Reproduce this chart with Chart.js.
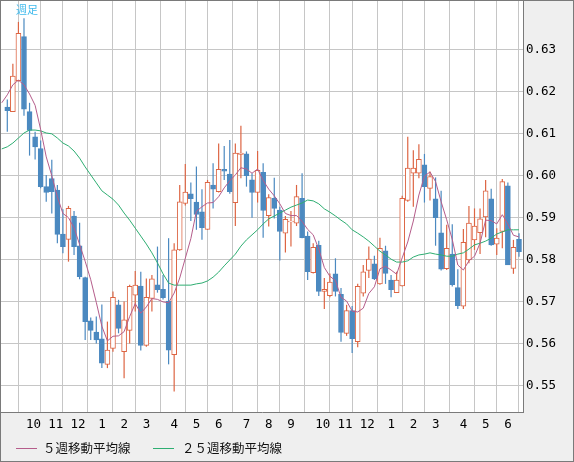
<!DOCTYPE html>
<html><head><meta charset="utf-8">
<script src="https://cdn.jsdelivr.net/npm/chart.js@4.4.1/dist/chart.umd.min.js"></script>
<style>
html,body{margin:0;padding:0;background:#efefef;}
#wrap{position:relative;width:574px;height:462px;box-sizing:border-box;border:1px solid #7a7a7a;background:#efefef;overflow:hidden;}
#c{position:absolute;left:0;top:0;}
.lg{position:absolute;font-family:"Noto Sans CJK JP";font-size:12.5px;line-height:16px;color:#111;white-space:nowrap;}
.ln{position:absolute;height:1px;}
#title{position:absolute;left:15px;top:2px;font-family:"Noto Sans CJK JP";font-size:11px;line-height:13px;color:#3db9ec;}
</style></head>
<body><div id="wrap"><canvas id="c" width="572" height="460" style="width:572px;height:460px"></canvas>
<div id="title">週足</div>
<div class="ln" style="left:15px;top:447px;width:21px;background:#b55d8b"></div>
<div class="lg" style="left:42px;top:439px">５週移動平均線</div>
<div class="ln" style="left:152px;top:447px;width:21px;background:#2eae72"></div>
<div class="lg" style="left:181px;top:439px">２５週移動平均線</div>
</div>
<script>
// weekly OHLC (one entry per week, oldest first)
const opens = [.6164,.6153,.6227,.6332,.6153,.6093,.6065,.5974,.5993,.5966,
.5861,.5848,.5904,.5833,.5757,.5654,.5627,.5611,.5550,.5588,
.5692,.5580,.5631,.5715,.5737,.5595,.5707,.5740,.5729,.5701,
.5573,.5823,.5934,.5957,.5937,.5914,.5872,.5978,.5962,.6015,
.6004,.5936,.6051,.6052,.5990,.5960,.6008,.5905,.5946,.5918,
.5863,.5890,.5887,.5946,.5856,.5769,.5834,.5724,.5714,.5766,
.5717,.5624,.5678,.5604,.5720,.5774,.5790,.5742,.5821,.5751,
.5721,.5737,.5941,.6006,.6006,.6026,.5970,.5945,.5864,.5778,
.5813,.5733,.5689,.5799,.5847,.5864,.5902,.5945,.5837,.5867,
.5976,.5779,.5848];
const highs = [.6182,.6267,.6367,.6376,.6174,.6105,.6084,.6002,.6038,.5978,
.5920,.5928,.5916,.5888,.5759,.5662,.5664,.5693,.5652,.5724,
.5704,.5700,.5740,.5773,.5771,.5755,.5763,.5831,.5763,.5851,
.5839,.5978,.6028,.5984,.6022,.5968,.5990,.6030,.6077,.6071,
.6085,.6077,.6119,.6058,.6006,.6059,.6030,.5956,.5995,.5926,
.5904,.5916,.5978,.6006,.5867,.5839,.5845,.5756,.5767,.5803,
.5732,.5692,.5689,.5742,.5787,.5831,.5809,.5852,.5833,.5763,
.5771,.5952,.6093,.6061,.6075,.6052,.6010,.5996,.5964,.5883,
.5884,.5777,.5873,.5928,.5922,.5922,.5990,.5969,.5875,.5992,
.5984,.5847,.5863];
const lows = [.6105,.6153,.6225,.6143,.6048,.6039,.5970,.5938,.5910,.5839,
.5815,.5795,.5811,.5753,.5608,.5608,.5600,.5541,.5541,.5580,
.5624,.5517,.5600,.5676,.5583,.5592,.5676,.5721,.5705,.5550,
.5485,.5821,.5929,.5892,.5871,.5847,.5871,.5922,.5960,.5990,
.5957,.5880,.5994,.5974,.5900,.5936,.5852,.5879,.5898,.5798,
.5817,.5831,.5880,.5851,.5751,.5767,.5713,.5682,.5710,.5712,
.5604,.5618,.5577,.5591,.5712,.5756,.5751,.5740,.5742,.5710,
.5720,.5736,.5938,.5926,.5994,.5936,.5941,.5833,.5774,.5775,
.5736,.5682,.5682,.5791,.5823,.5813,.5853,.5833,.5811,.5827,
.5787,.5766,.5807];
const closes = [.6155,.6238,.6340,.6159,.6108,.6069,.5974,.5960,.5962,.5860,
.5831,.5922,.5831,.5759,.5652,.5631,.5608,.5553,.5584,.5710,
.5636,.5656,.5736,.5739,.5595,.5710,.5754,.5728,.5709,.5584,
.5823,.5938,.5961,.5945,.5908,.5876,.5984,.5968,.6015,.6011,
.5962,.6054,.6054,.6000,.5960,.6013,.5917,.5948,.5922,.5867,
.5896,.5892,.5950,.5852,.5771,.5829,.5724,.5729,.5746,.5724,
.5626,.5678,.5611,.5736,.5771,.5801,.5754,.5827,.5767,.5728,
.5751,.5946,.6018,.6018,.6039,.5974,.5998,.5900,.5777,.5827,
.5740,.5690,.5841,.5887,.5880,.5897,.5964,.5835,.5851,.5986,
.5787,.5829,.5819];
// moving averages, first value belongs to the week before the first candle
const ma5 = [.6174,.6193,.6217,.6228,.6217,.6195,.6168,.6110,.6045,.6000,
.5950,.5910,.5900,.5876,.5836,.5796,.5752,.5698,.5641,.5606,
.5617,.5618,.5628,.5664,.5695,.5672,.5687,.5707,.5705,.5699,
.5697,.5720,.5756,.5803,.5850,.5915,.5926,.5935,.5936,.5950,
.5971,.5988,.6002,.6019,.6016,.6006,.6016,.5989,.5968,.5952,
.5933,.5910,.5905,.5905,.5891,.5872,.5859,.5825,.5781,.5760,
.5750,.5710,.5701,.5677,.5675,.5684,.5719,.5735,.5778,.5784,
.5775,.5765,.5804,.5842,.5892,.5954,.5999,.6009,.5986,.5938,
.5895,.5848,.5787,.5775,.5797,.5808,.5839,.5894,.5893,.5885,
.5907,.5885,.5858,.5854];
const ma25 = [.6064,.6069,.6078,.6090,.6102,.6109,.6109,.6107,.6102,.6100,
.6090,.6078,.6071,.6059,.6042,.6021,.6002,.5983,.5964,.5954,
.5944,.5930,.5911,.5894,.5875,.5856,.5837,.5816,.5792,.5766,
.5744,.5739,.5739,.5739,.5739,.5742,.5744,.5749,.5758,.5770,
.5785,.5799,.5813,.5832,.5847,.5859,.5871,.5885,.5897,.5904,
.5911,.5918,.5925,.5930,.5935,.5942,.5940,.5933,.5921,.5913,
.5904,.5894,.5885,.5871,.5863,.5854,.5844,.5832,.5820,.5811,
.5801,.5794,.5794,.5797,.5806,.5811,.5813,.5816,.5813,.5811,
.5808,.5808,.5813,.5816,.5825,.5835,.5839,.5844,.5851,.5861,
.5866,.5871,.5871,.5871];
// first week of each month (candle index) and its month label
const monthTickIdx = [4,8,12,17,21,25,30,34,38,43,47,51,56,60,64,69,73,77,82,86,90];
const monthLabels = ['10','11','12','1','2','3','4','5','6','7','8','9','10','11','12','1','2','3','4','5','6'];
const yTicks = [0.55,0.56,0.57,0.58,0.59,0.60,0.61,0.62,0.63];

const RED = '#dd6543', BLUE = '#4b89c0', PINK = '#b55d8b', GREEN = '#2eae72';
const GRID = '#c6c6c6', BORDER = '#7a7a7a';

const up = closes.map((c, i) => c >= opens[i]);
const bodyData = opens.map((o, i) => ({x: i, y: [Math.min(o, closes[i]), Math.max(o, closes[i])]}));
const wickData = lows.map((l, i) => ({x: i, y: [l, highs[i]]}));

const bgPlugin = {
  id: 'bg',
  beforeDraw(chart) {
    const {ctx, chartArea: a} = chart;
    ctx.save();
    ctx.fillStyle = '#efefef';
    ctx.fillRect(0, 0, chart.width, chart.height);
    ctx.fillStyle = '#ffffff';
    ctx.fillRect(a.left, a.top, a.right - a.left, a.bottom - a.top);
    ctx.restore();
  }
};

const tickFont = {family: 'DejaVu Sans Mono', size: 12.5};
const noPad = s => { s.paddingTop = 0; s.paddingBottom = 0; s.paddingLeft = 0; s.paddingRight = 0; };

new Chart(document.getElementById('c'), {
  type: 'bar',
  data: {
    datasets: [
      {type: 'line', label: '５週移動平均線', data: ma5.map((v, i) => ({x: i - 1, y: v})),
       borderColor: PINK, borderWidth: 1, pointRadius: 0, fill: false, tension: 0, order: 0},
      {type: 'line', label: '２５週移動平均線', data: ma25.map((v, i) => ({x: i - 1, y: v})),
       borderColor: GREEN, borderWidth: 1, pointRadius: 0, fill: false, tension: 0, order: 0},
      {type: 'bar', label: 'body', data: bodyData, grouped: false, barThickness: 5,
       backgroundColor: up.map(u => u ? '#ffffff' : BLUE),
       borderColor: up.map(u => u ? RED : BLUE), borderWidth: 1, borderSkipped: false, order: 1},
      {type: 'bar', label: 'wick', data: wickData, grouped: false, barThickness: 1.2,
       backgroundColor: up.map(u => u ? RED : BLUE), borderWidth: 0, inflateAmount: 0, order: 2}
    ]
  },
  options: {
    responsive: false, animation: false, events: [],
    layout: {padding: 0},
    plugins: {legend: {display: false}, tooltip: {enabled: false}},
    scales: {
      x: {
        type: 'linear', min: -1.133, max: 92.72, offset: false,
        afterBuildTicks: s => { s.ticks = monthTickIdx.map(v => ({value: v})); },
        afterFit: s => { s.height = 49; noPad(s); },
        grid: {color: GRID, lineWidth: 1, drawTicks: false},
        border: {display: true, color: BORDER, width: 1},
        ticks: {autoSkip: false, maxRotation: 0, minRotation: 0, align: 'start', labelOffset: -3.6,
                padding: 5, color: '#000', font: tickFont,
                callback: (v, i) => monthLabels[i]}
      },
      y: {
        type: 'linear', position: 'right', min: 0.54363, max: 0.64169,
        afterBuildTicks: s => { s.ticks = yTicks.map(v => ({value: v})); },
        afterFit: s => { s.width = 50; noPad(s); },
        grid: {color: GRID, lineWidth: 1, drawTicks: false},
        border: {display: true, color: BORDER, width: 1},
        ticks: {padding: 3, color: '#000', font: tickFont, callback: v => v.toFixed(2)}
      }
    }
  },
  plugins: [bgPlugin]
});
</script>
</body></html>
